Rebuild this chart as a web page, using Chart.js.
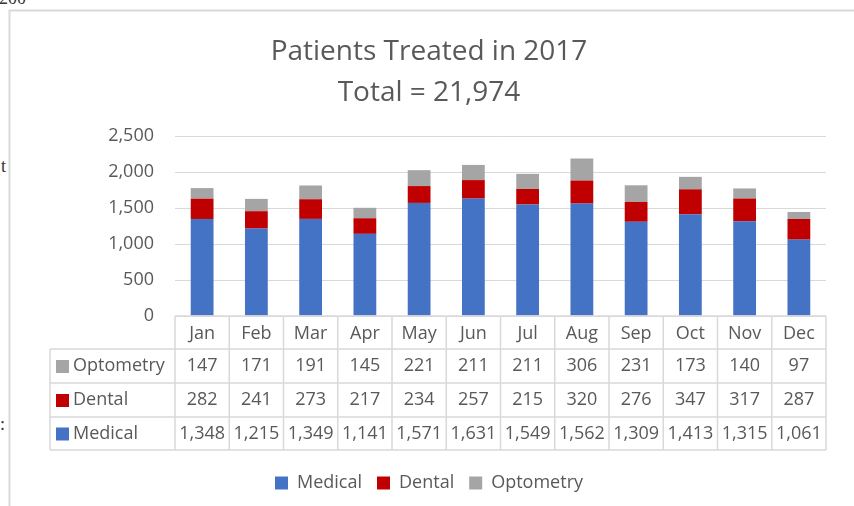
<!DOCTYPE html>
<html>
<head>
<meta charset="utf-8">
<script src="https://cdn.jsdelivr.net/npm/chart.js@4/dist/chart.umd.min.js"></script>
<style>
  html, body { margin: 0; padding: 0; background: #fff; }
  #wrap { position: relative; width: 854px; height: 506px; overflow: hidden; }
  canvas { position: absolute; left: 0; top: 0; }
  .stray { position: absolute; font-family: "Liberation Serif", serif; font-size: 18px; color: #333; }
</style>
</head>
<body>
<div id="wrap">
  <span class="stray" style="left:-1px; top:-12px;">200</span>
  <span class="stray" style="left:1px; top:156px;">t</span>
  <span class="stray" style="left:0px; top:414px;">:</span>
  <canvas id="c" width="854" height="506"></canvas>
</div>
<script>
const months = ['Jan','Feb','Mar','Apr','May','Jun','Jul','Aug','Sep','Oct','Nov','Dec'];
const medical = [1348,1215,1349,1141,1571,1631,1549,1562,1309,1413,1315,1061];
const dental = [282,241,273,217,234,257,215,320,276,347,317,287];
const optometry = [147,171,191,145,221,211,211,306,231,173,140,97];
const titleLines = ['Patients Treated in 2017', 'Total = 21,974'];

const FONT = '"Open Sans", Lato, sans-serif';
const TXT = '#595959';
const GRID = '#d9d9d9';

const series = [
  { label: 'Medical', data: medical, color: '#4472C4' },
  { label: 'Dental', data: dental, color: '#C00000' },
  { label: 'Optometry', data: optometry, color: '#A5A5A5' }
];

const frame = {
  id: 'frame',
  beforeDraw(chart) {
    const ctx = chart.ctx;
    ctx.save();
    ctx.strokeStyle = GRID;
    ctx.lineWidth = 2;
    ctx.beginPath();
    ctx.moveTo(9.5, 506); ctx.lineTo(9.5, 10.5); ctx.lineTo(854, 10.5);
    ctx.stroke();
    ctx.restore();
  }
};

const dataTable = {
  id: 'dataTable',
  afterDraw(chart) {
    const ctx = chart.ctx;
    const a = chart.chartArea;
    const xs = chart.scales.x;
    const n = months.length;
    const w = (a.right - a.left) / n;
    const top = a.bottom;
    const rowH = [33, 34, 34, 33];
    const ys = [top];
    rowH.forEach(h => ys.push(ys[ys.length - 1] + h));
    const labelLeft = 50;
    ctx.save();
    ctx.strokeStyle = GRID;
    ctx.lineWidth = 1.5;
    ctx.beginPath();
    ctx.moveTo(a.left, ys[0]); ctx.lineTo(a.right, ys[0]);
    for (let r = 1; r < ys.length; r++) {
      ctx.moveTo(labelLeft, ys[r]); ctx.lineTo(a.right, ys[r]);
    }
    for (let i = 0; i <= n; i++) {
      const x = a.left + i * w;
      ctx.moveTo(x, ys[0]); ctx.lineTo(x, ys[ys.length - 1]);
    }
    ctx.moveTo(labelLeft, ys[1]); ctx.lineTo(labelLeft, ys[ys.length - 1]);
    ctx.stroke();

    ctx.fillStyle = TXT;
    ctx.font = '18px ' + FONT;
    ctx.textAlign = 'center';
    ctx.textBaseline = 'middle';
    months.forEach((m, i) => {
      const cx = xs.getPixelForValue(i);
      ctx.fillText(m, cx, (ys[0] + ys[1]) / 2 + 1);
    });
    const rows = [series[2], series[1], series[0]];
    rows.forEach((s, r) => {
      const cy = (ys[r + 1] + ys[r + 2]) / 2;
      ctx.fillStyle = s.color;
      ctx.fillRect(56, cy - 6, 13, 13);
      ctx.fillStyle = TXT;
      ctx.textAlign = 'left';
      ctx.fillText(s.label, 73, cy);
      ctx.textAlign = 'center';
      s.data.forEach((v, i) => {
        ctx.fillText(v.toLocaleString('en-US'), xs.getPixelForValue(i), cy);
      });
    });
    ctx.restore();
  }
};

new Chart(document.getElementById('c'), {
  type: 'bar',
  data: {
    labels: months,
    datasets: series.map(s => ({
      label: s.label,
      data: s.data,
      backgroundColor: s.color,
      borderWidth: 0,
      categoryPercentage: 1,
      barPercentage: 0.42
    }))
  },
  options: {
    responsive: false,
    animation: false,
    layout: { padding: { left: 32, right: 28, top: 12, bottom: 4 } },
    plugins: {
      title: {
        display: true,
        text: titleLines,
        color: TXT,
        font: { family: FONT, size: 28, weight: 'normal', lineHeight: 1.465 },
        padding: { top: 20, bottom: 22 }
      },
      legend: {
        position: 'bottom',
        labels: {
          color: TXT,
          font: { family: FONT, size: 18 },
          boxWidth: 13, boxHeight: 13,
          padding: 15
        }
      },
      tooltip: { enabled: false }
    },
    scales: {
      x: {
        stacked: true,
        grid: { display: false },
        border: { display: false },
        ticks: { display: false },
        afterFit(scale) { scale.height = 143; }
      },
      y: {
        stacked: true,
        min: 0, max: 2500,
        ticks: {
          stepSize: 500,
          color: TXT,
          font: { family: FONT, size: 18 },
          padding: 21,
          callback: v => v.toLocaleString('en-US')
        },
        grid: { color: GRID, lineWidth: 1, drawTicks: false },
        border: { display: false },
        afterFit(scale) { scale.width = 175 - 32; }
      }
    }
  },
  plugins: [frame, dataTable]
});
</script>
</body>
</html>
